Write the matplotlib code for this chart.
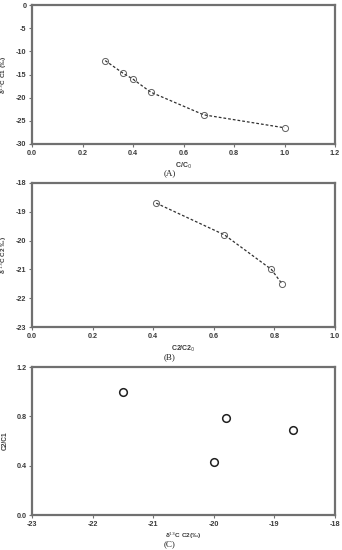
import matplotlib.pyplot as plt

# ==========================================================
# DATA
# ==========================================================

a_x = [0.29, 0.36, 0.40, 0.47, 0.68, 1.00]
a_y = [-12.0, -14.7, -16.0, -18.8, -23.7, -26.5]

b_x = [0.41, 0.635, 0.79, 0.825]
b_y = [-18.7, -19.8, -21.0, -21.5]

c_x = [-21.5, -19.8, -18.7, -20.0]
c_y = [1.00, 0.79, 0.69, 0.43]

# ==========================================================
# STYLE
# ==========================================================

plt.rcParams["font.family"] = ["Liberation Sans", "DejaVu Sans"]
plt.rcParams["axes.unicode_minus"] = False
frame_color = "#707070"
text_color = "#3a3a3a"
tick_size = 5.2

W, H = 342, 550
AX_W = 335 - 32


def style_axes(ax):
    for sp in ax.spines.values():
        sp.set_color(frame_color)
        sp.set_linewidth(1.6)
    ax.tick_params(
        direction="out",
        length=2.5,
        width=0.8,
        color=frame_color,
        labelsize=tick_size,
        labelcolor=text_color,
        pad=1.5
    )
    for lab in ax.get_xticklabels() + ax.get_yticklabels():
        lab.set_fontweight("bold")
    ax.yaxis.set_label_coords(-23 / AX_W, 0.5)


fig = plt.figure(figsize=(3.42, 5.5), dpi=100)


def make_axes(left, top, right, bottom):
    return fig.add_axes([
        left / W,
        1 - bottom / H,
        (right - left) / W,
        (bottom - top) / H
    ])


def panel_label(y, text):
    fig.text(170 / W, 1 - y / H, text, family="Liberation Serif",
             fontsize=6.5, ha="center", va="center", color="#202020")


# ==========================================================
# PANEL A
# ==========================================================

ax1 = make_axes(32, 5, 335, 144)
ax1.plot(a_x, a_y, linestyle=(0, (2.2, 1.6)), color="#303030", linewidth=0.9)
ax1.plot(a_x, a_y, linestyle="none", marker="o", markersize=4.4,
         markerfacecolor="none", markeredgecolor="#606060", markeredgewidth=0.7)
ax1.set_xlim(0, 1.2)
ax1.set_ylim(-30, 0)
ax1.set_xticks([0.0, 0.2, 0.4, 0.6, 0.8, 1.0, 1.2])
ax1.set_yticks([-30, -25, -20, -15, -10, -5, 0])
ax1.set_xticklabels([f"{v:.1f}" for v in ax1.get_xticks()])
ax1.set_xlabel("C/C$_0$", fontsize=5, color=text_color, labelpad=3,
               fontweight="bold")
ax1.set_ylabel("δ$^{13}$C C1 (‰)", fontsize=4.6, color=text_color,
               fontweight="bold")
style_axes(ax1)
panel_label(173, "(A)")

# ==========================================================
# PANEL B
# ==========================================================

ax2 = make_axes(32, 183, 335, 327)
ax2.plot(b_x, b_y, linestyle=(0, (2.2, 1.6)), color="#303030", linewidth=0.9)
ax2.plot(b_x, b_y, linestyle="none", marker="o", markersize=4.4,
         markerfacecolor="none", markeredgecolor="#606060", markeredgewidth=0.7)
ax2.set_xlim(0, 1.0)
ax2.set_ylim(-23, -18)
ax2.set_xticks([0.0, 0.2, 0.4, 0.6, 0.8, 1.0])
ax2.set_yticks([-23, -22, -21, -20, -19, -18])
ax2.set_xticklabels([f"{v:.1f}" for v in ax2.get_xticks()])
ax2.set_xlabel("C2/C2$_0$", fontsize=5, color=text_color, labelpad=3,
               fontweight="bold")
ax2.set_ylabel("δ $^{13}$C C2 ‰)", fontsize=4.6, color=text_color,
               fontweight="bold")
style_axes(ax2)
panel_label(357, "(B)")

# ==========================================================
# PANEL C
# ==========================================================

ax3 = make_axes(32, 367, 335, 515)
ax3.plot(c_x, c_y, linestyle="none", marker="o", markersize=5.5,
         markerfacecolor="none", markeredgecolor="#202020", markeredgewidth=1.1)
ax3.set_xlim(-23, -18)
ax3.set_ylim(0, 1.2)
ax3.set_xticks([-23, -22, -21, -20, -19, -18])
ax3.set_yticks([0.0, 0.4, 0.8, 1.2])
ax3.set_yticklabels([f"{v:.1f}" for v in ax3.get_yticks()])
ax3.set_xlabel("δ$^{13}$C C2(‰)", fontsize=4.6, color=text_color, labelpad=2,
               fontweight="bold")
ax3.set_ylabel("C2/C1", fontsize=4.8, color=text_color, fontweight="bold")
style_axes(ax3)
panel_label(544, "(C)")

plt.savefig("out.png", dpi=100)
